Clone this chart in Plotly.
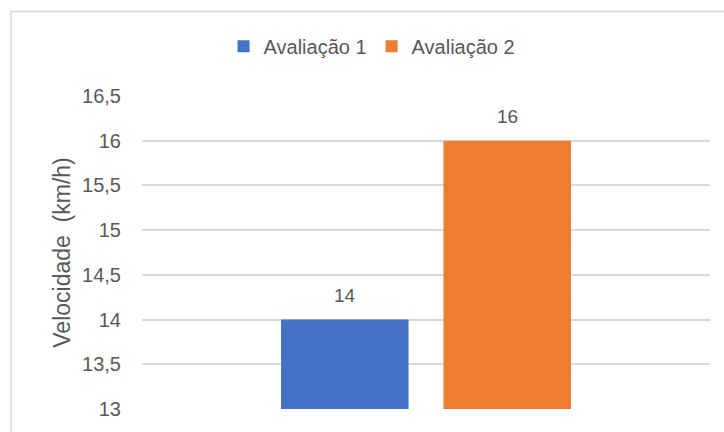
import plotly.graph_objects as go

categories = ["Velocidade"]
series_names = ["Avaliação 1", "Avaliação 2"]
series_values = [[14], [16]]
series_colors = ["#4472C4", "#ED7D31"]
tick_vals = [13, 13.5, 14, 14.5, 15, 15.5, 16, 16.5]
tick_text = ["13", "13,5", "14", "14,5", "15", "15,5", "16", "16,5"]

FONT = "Liberation Sans"
GRAY = "#595959"
SLOT_SHIFT = [-81.5, 81.5]  # pixel offset of each grouped bar's label from category centre

fig = go.Figure()
for name, vals, col in zip(series_names, series_values, series_colors):
    fig.add_trace(go.Bar(
        x=categories, y=vals, name=name, marker_color=col,
        marker_line_width=0,
    ))

annotations = []
for vals, dx in zip(series_values, SLOT_SHIFT):
    for c, v in zip(categories, vals):
        annotations.append(dict(x=c, y=v, xref="x", yref="y", text=str(v).replace(".", ","),
                                showarrow=False, xshift=dx, yshift=12, yanchor="bottom",
                                font=dict(family=FONT, size=19, color=GRAY)))

fig.update_layout(
    width=724, height=432,
    margin=dict(l=142, r=14, t=96, b=21),
    paper_bgcolor="white", plot_bgcolor="white",
    barmode="group", bargap=0.428, bargroupgap=0.215,
    font=dict(family=FONT, size=19, color=GRAY),
    showlegend=True,
    legend=dict(orientation="h", x=0.405, xanchor="center", y=1.159, yanchor="middle",
                font=dict(family=FONT, size=20, color=GRAY), itemwidth=30,
                traceorder="normal"),
    xaxis=dict(showticklabels=False, showgrid=False, showline=False, zeroline=False),
    yaxis=dict(range=[13, 16.5], tickvals=tick_vals, ticktext=tick_text,
               showgrid=True, gridcolor="#D9D9D9", gridwidth=1.5,
               zeroline=False, showline=False, ticklabelstandoff=20,
               tickfont=dict(family=FONT, size=20, color=GRAY),
               title=dict(text="Velocidade  (km/h)", standoff=5,
                          font=dict(family=FONT, size=23, color=GRAY))),
    annotations=annotations,
    shapes=[dict(type="rect", xref="paper", yref="paper",
                 x0=-0.2306, x1=1.05, y0=-0.1, y1=1.2698,
                 line=dict(color="#D9D9D9", width=1.5), fillcolor="rgba(0,0,0,0)", layer="below")],
)

fig.write_html("out.html")
